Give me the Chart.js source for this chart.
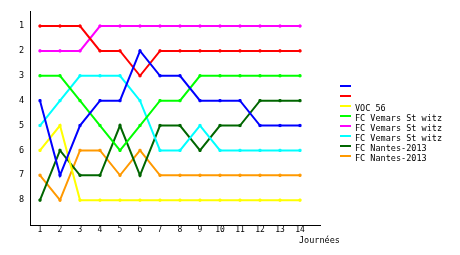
<!DOCTYPE html>
<html>
<head>
<meta charset="utf-8">
<script src="https://cdn.jsdelivr.net/npm/chart.js@4/dist/chart.umd.min.js"></script>
<style>
  html, body { margin: 0; padding: 0; background: #fff; }
  #wrap { width: 460px; height: 255px; }
</style>
</head>
<body>
<div id="wrap"><canvas id="myChart" width="460" height="255"></canvas></div>
<script>
// journées 1..14, classement (1 = premier)
const journees = [1, 2, 3, 4, 5, 6, 7, 8, 9, 10, 11, 12, 13, 14]
const rangTicks = [1, 2, 3, 4, 5, 6, 7, 8]

const labels = ["", "", "VOC 56", "FC Vemars St witz", "FC Vemars St witz", "FC Vemars St witz", "FC Nantes-2013", "FC Nantes-2013"]
const colors = ["#0000ff", "#ff0000", "#ffff00", "#00ff00", "#ff00ff", "#00ffff", "#006600", "#ff9900"]

const bleu = [4, 7, 5, 4, 4, 2, 3, 3, 4, 4, 4, 5, 5, 5]
const rouge = [1, 1, 1, 2, 2, 3, 2, 2, 2, 2, 2, 2, 2, 2]
const jaune = [6, 5, 8, 8, 8, 8, 8, 8, 8, 8, 8, 8, 8, 8]
const vert = [3, 3, 4, 5, 6, 5, 4, 4, 3, 3, 3, 3, 3, 3]
const magenta = [2, 2, 2, 1, 1, 1, 1, 1, 1, 1, 1, 1, 1, 1]
const cyan = [5, 4, 3, 3, 3, 4, 6, 6, 5, 6, 6, 6, 6, 6]
const vertFonce = [8, 6, 7, 7, 5, 7, 5, 5, 6, 5, 5, 4, 4, 4]
const orange = [7, 8, 6, 6, 7, 6, 7, 7, 7, 7, 7, 7, 7, 7]

const series = [bleu, rouge, jaune, vert, magenta, cyan, vertFonce, orange]

const font = "DejaVu Sans Mono"

const datasets = series.map((values, i) => ({
  label: labels[i],
  data: values.map((v, k) => ({ x: journees[k], y: v })),
  borderColor: colors[i],
  backgroundColor: colors[i],
  borderWidth: 2,
  pointStyle: 'rect',
  pointRadius: 1.5,
  pointBorderWidth: 1,
  tension: 0,
}))

// legende + titre de l'axe x dessines a la main
const sideLegend = {
  id: 'sideLegend',
  afterDraw(chart) {
    const ctx = chart.ctx
    ctx.save()
    ctx.font = `8.5px "${font}"`
    ctx.textBaseline = 'middle'
    ctx.textAlign = 'left'
    chart.data.datasets.forEach((ds, i) => {
      let y = 86 + i * 10
      ctx.fillStyle = ds.borderColor
      ctx.fillRect(340, y - 1, 11, 2)
      ctx.fillStyle = '#000'
      ctx.fillText(ds.label, 355, y + 3)
    })
    ctx.fillText('Journées', 299, 241)
    ctx.restore()
  }
}

new Chart(document.querySelector('#myChart'), {
  type: 'line',
  data: { datasets },
  options: {
    responsive: false,
    animation: false,
    layout: { padding: { top: 10, right: 140, left: 0, bottom: 0 } },
    plugins: {
      legend: { display: false },
      tooltip: { enabled: false },
    },
    scales: {
      x: {
        type: 'linear',
        min: 0.5,
        max: 15,
        afterBuildTicks: scale => { scale.ticks = journees.map(v => ({ value: v })) },
        afterFit: scale => { scale.height = 30 },
        grid: { drawOnChartArea: false, drawTicks: false },
        border: { color: '#000', width: 1 },
        ticks: { color: '#000', font: { family: font, size: 8 }, padding: 0, maxRotation: 0, autoSkip: false },
      },
      y: {
        type: 'linear',
        reverse: true,
        min: 0.4,
        max: 9,
        afterBuildTicks: scale => { scale.ticks = rangTicks.map(v => ({ value: v })) },
        afterFit: scale => { scale.width = 30 },
        grid: { drawOnChartArea: false, drawTicks: false },
        border: { color: '#000', width: 1 },
        ticks: { color: '#000', font: { family: font, size: 8.5 }, padding: 6 },
      },
    },
  },
  plugins: [sideLegend],
})
</script>
</body>
</html>
